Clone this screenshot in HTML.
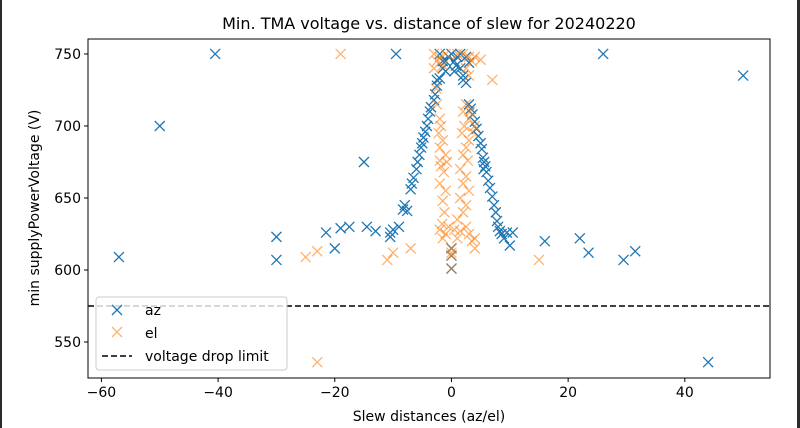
<!DOCTYPE html>
<html><head><meta charset="utf-8"><style>
body{margin:0;background:#fff;}
#wrap{position:relative;width:800px;height:428px;overflow:hidden;background:#fff;}
svg text{font-family:"DejaVu Sans","Liberation Sans",sans-serif;}
</style></head><body>
<div id="wrap">
<svg id="chart" width="800" height="428">
<rect x="0" y="0" width="2" height="428" fill="#2b2b2b"/>
<rect x="797" y="0" width="3" height="428" fill="#2b2b2b"/>
<text x="429" y="29" font-size="16" text-anchor="middle">Min. TMA voltage vs. distance of slew for 20240220</text>
<g id="marks"></g>
<rect x="88" y="39" width="682" height="339" fill="none" stroke="#000" stroke-width="1"/>
<g id="axes"></g>
<text x="429" y="421" font-size="14" text-anchor="middle">Slew distances (az/el)</text>
<text transform="translate(39,208) rotate(-90)" font-size="14" text-anchor="middle">min supplyPowerVoltage (V)</text>
<g>
<rect x="96" y="297" width="191" height="73" rx="3" fill="#fff" fill-opacity="0.8" stroke="#ccc"/>
<g><path d="M112,305 l10,10 M122,305 l-10,10" stroke="#1f77b4" stroke-width="1.3"/><text x="145" y="315" font-size="14">az</text></g>
<g><path d="M112,327 l10,10 M122,327 l-10,10" stroke="#ff7f0e" stroke-opacity="0.6" stroke-width="1.3"/><text x="145" y="338" font-size="14">el</text></g>
<g><line x1="102" y1="356" x2="132" y2="356" stroke="#000" stroke-width="1.5" stroke-dasharray="6,3"/><text x="145" y="361" font-size="14">voltage drop limit</text></g>
</g>
</svg></div>
<script>
const xTicks=[-60,-40,-20,0,20,40];
const yTicks=[550,600,650,700,750];
const limitValue=575;
const azX=[-57,-50,-40.5,-30,-30,-21.5,-20,-19,-17.5,-15,-14.5,-13,-10.5,-10.5,-10,-9.5,-9,-8.3,-8,-7.6,16,22,23.5,29.5,31.5,44,50,26,
-7,-6.8,-6.5,-6,-5.8,-5.5,-5.2,-5,-4.8,-4.5,-4.2,-4,-3.7,-3.5,-3,-2.8,-2.5,-2,-1.5,-1,-0.5,0,0.5,1,1.5,2,-2.5,
2.5,3,3.3,3.6,4,4.3,4.6,5,5.2,5.4,5.6,5.8,5.5,6,6.3,6.6,7,7.3,7.6,7.8,8,8.3,8.6,9,9.5,10,10.5,3,2.5,1.5,-1,0.5,-2,-1.5,0.8,2,0,0,0];
const azY=[609,700,750,623,607,626,615,629,630,675,630,627,626,623,628,750,630,642,645,641,620,622,612,607,613,536,735,750,
656,660,664,670,675,680,685,688,692,696,700,705,710,713,718,722,728,733,740,745,748,750,745,748,740,735,732,
730,715,712,708,703,698,693,688,684,678,675,672,670,668,662,657,651,645,640,634,630,627,625,622,626,617,626,744,748,750,738,738,750,745,742,732,601,610,615];
const elX=[-3,-2.5,-2,-3,-1.5,2,3,3.5,2.5,3,1,-1,4,5,
-2.5,-2,-2.2,-1.5,-2,-1,-1.8,-1.3,-2,-1,-1.5,-1.2,-1.6,-2,-1,-1.5,-0.5,-2.6,-1.8,-0.8,-2,
2.5,2,3,2.2,1.8,3,2.5,2,2.8,1.5,2.5,2,3,1.5,2.5,2,1,2.5,1.5,3,0.5,1,3.5,4,3.2,4,3.6,
0,0,0,0,-19,-25,-23,-23,-11,-10,-7,15,7,4];
const elY=[750,745,748,740,742,750,748,745,740,735,750,750,748,746,
715,705,695,690,685,680,672,668,660,655,648,640,632,628,625,622,630,726,700,675,676,
715,710,705,700,695,690,685,680,676,670,665,660,655,650,645,640,635,630,627,625,628,622,620,622,710,700,696,
601,610,615,612,750,609,613,536,607,612,615,607,732,615];
const L=88,R=770,T=39,B=378,xMin=-62.3,xMax=54.6,yMin=525,yMax=760.4;
const sx=v=>L+(v-xMin)/(xMax-xMin)*(R-L);
const sy=v=>B-(v-yMin)/(yMax-yMin)*(B-T);
const NS="http://www.w3.org/2000/svg";
const axes=document.getElementById('axes'),marks=document.getElementById('marks');
xTicks.forEach(t=>{
 const l=document.createElementNS(NS,'line');l.setAttribute('x1',sx(t));l.setAttribute('x2',sx(t));l.setAttribute('y1',B);l.setAttribute('y2',B+4);l.setAttribute('stroke','#000');
 
 
 axes.appendChild(l);
 const tx=document.createElementNS(NS,'text');tx.setAttribute('x',sx(t));tx.setAttribute('y',B+19);tx.setAttribute('font-size','14');tx.setAttribute('text-anchor','middle');tx.textContent=t<0?'\u2212'+(-t):String(t);
 
 
 axes.appendChild(tx);
});
yTicks.forEach(t=>{
 const l=document.createElementNS(NS,'line');l.setAttribute('x1',L-4);l.setAttribute('x2',L);l.setAttribute('y1',sy(t));l.setAttribute('y2',sy(t));l.setAttribute('stroke','#000');
 
 
 axes.appendChild(l);
 const tx=document.createElementNS(NS,'text');tx.setAttribute('x',L-7);tx.setAttribute('y',sy(t)+5);tx.setAttribute('font-size','14');tx.setAttribute('text-anchor','end');tx.textContent=t;
 
 
 axes.appendChild(tx);
});
function drawX(x,y,color,op,name){
 const p=document.createElementNS(NS,'path');const cx=sx(x),cy=sy(y),r=5;
 p.setAttribute('d',`M${cx-r},${cy-r}L${cx+r},${cy+r}M${cx+r},${cy-r}L${cx-r},${cy+r}`);
 p.setAttribute('stroke',color);p.setAttribute('stroke-width','1.3');p.setAttribute('stroke-opacity',op);
 
 
 marks.appendChild(p);
}
azX.forEach((x,i)=>drawX(x,azY[i],'#1f77b4',1,'az-point'));
elX.forEach((x,i)=>drawX(x,elY[i],'#ff7f0e',0.6,'el-point'));
const lim=document.createElementNS(NS,'line');
lim.setAttribute('x1',L);lim.setAttribute('x2',R);lim.setAttribute('y1',sy(limitValue));lim.setAttribute('y2',sy(limitValue));
lim.setAttribute('stroke','#000');lim.setAttribute('stroke-width','1.5');lim.setAttribute('stroke-dasharray','6,3');


marks.appendChild(lim);
</script>
</body></html>
